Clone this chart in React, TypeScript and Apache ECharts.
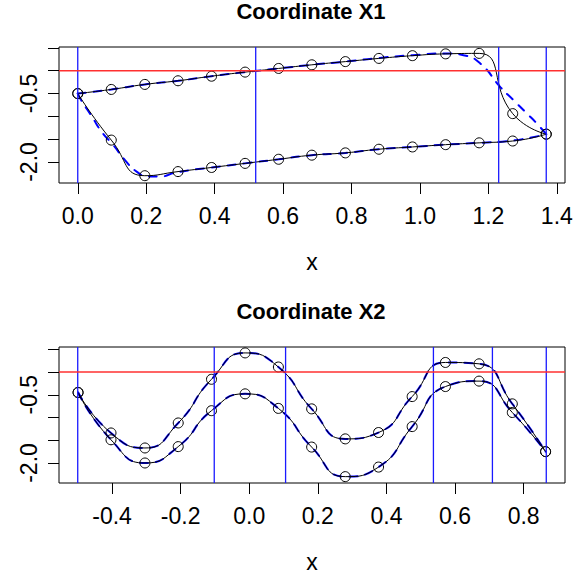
import React, { useEffect, useRef } from "react";
import * as echarts from "echarts";

// ---------- Panel 1: Coordinate X1 ----------
const x1X = [0, 0.098, 0.196, 0.293, 0.391, 0.489, 0.587, 0.684, 0.782, 0.88, 0.978, 1.075, 1.173, 1.271, 1.369];
const x1Upper = [-0.5, -0.41, -0.3, -0.22, -0.12, -0.03, 0.05, 0.13, 0.2, 0.27, 0.33, 0.37, 0.38, -0.94, -1.39];
const x1Lower = [-0.5, -1.52, -2.3, -2.21, -2.12, -2.03, -1.94, -1.85, -1.8, -1.72, -1.67, -1.62, -1.58, -1.54, -1.39];
const x1DashUpX = [0, 0.098, 0.196, 0.293, 0.391, 0.489, 0.587, 0.684, 0.782, 0.88, 0.978, 1.075, 1.127, 1.176, 1.235, 1.274, 1.313, 1.342, 1.369];
const x1DashUpY = [-0.5, -0.41, -0.3, -0.22, -0.12, -0.03, 0.05, 0.13, 0.2, 0.28, 0.34, 0.38, 0.34, 0.16, -0.36, -0.65, -0.94, -1.16, -1.39];
const x1DashLoX = [0, 0.007, 0.041, 0.07, 0.104, 0.138, 0.172, 0.206, 0.236, 0.293, 0.391, 0.489, 0.587, 0.684, 0.782, 0.88, 0.978, 1.075, 1.173, 1.271, 1.369];
const x1DashLoY = [-0.5, -0.61, -1.0, -1.34, -1.63, -1.96, -2.21, -2.32, -2.32, -2.22, -2.12, -2.03, -1.94, -1.85, -1.8, -1.72, -1.67, -1.62, -1.58, -1.53, -1.39];
const x1VLines = [0, 0.52, 1.23, 1.369];
const x1XTicks = [0, 0.2, 0.4, 0.6, 0.8, 1.0, 1.2, 1.4];
const x1XRange = [-0.0548, 1.4238];
const x1YRange = [-2.46, 0.52];

// ---------- Panel 2: Coordinate X2 ----------
const x2X = [-0.499, -0.403, -0.304, -0.207, -0.11, -0.012, 0.085, 0.182, 0.28, 0.377, 0.475, 0.572, 0.67, 0.767, 0.864];
const x2Upper = [-0.45, -1.34, -1.67, -1.12, -0.16, 0.42, 0.11, -0.81, -1.47, -1.33, -0.54, 0.21, 0.18, -0.7, -1.75];
const x2Lower = [-0.45, -1.49, -2.0, -1.64, -0.85, -0.48, -0.8, -1.65, -2.3, -2.09, -1.2, -0.32, -0.2, -0.89, -1.75];
const x2VLines = [-0.5, -0.102, 0.106, 0.537, 0.709, 0.866];
const x2XTicks = [-0.4, -0.2, 0, 0.2, 0.4, 0.6, 0.8];
const x2XRange = [-0.5546, 0.9206];
const x2YRange = [-2.44, 0.55];

const yTicks = [-2.0, -1.5, -1.0, -0.5, 0, 0.5];
const yLabels = [-2.0, -0.5];
const hLine = 0;

const FONT = "'Liberation Sans', Arial, Helvetica, sans-serif";
const LABEL_SIZE = 23;

const zip = (xs: number[], ys: number[]) => xs.map((x, i) => [x, ys[i]]);

function xAxisCfg(idx: number, range: number[], ticks: number[]) {
  return {
    type: "value",
    gridIndex: idx,
    min: range[0],
    max: range[1],
    position: "bottom",
    axisLine: { show: false, onZero: false },
    splitLine: { show: false },
    axisTick: { show: true, length: 11, lineStyle: { color: "#000", width: 1 }, customValues: ticks },
    axisLabel: {
      show: true,
      customValues: ticks,
      formatter: (v: number) => v.toFixed(1),
      fontSize: LABEL_SIZE,
      color: "#000",
      margin: 21,
      fontFamily: FONT,
    },
    name: "x",
    nameLocation: "middle",
    nameGap: 67,
    nameTextStyle: { fontSize: LABEL_SIZE, color: "#000", fontFamily: FONT },
  };
}

function yAxisCfg(idx: number, range: number[]) {
  return {
    type: "value",
    gridIndex: idx,
    min: range[0],
    max: range[1],
    position: "left",
    axisLine: { show: false, onZero: false },
    splitLine: { show: false },
    axisTick: { show: true, length: 11, lineStyle: { color: "#000", width: 1 }, customValues: yTicks },
    axisLabel: {
      show: true,
      customValues: yLabels,
      rotate: 90,
      formatter: (v: number) => v.toFixed(1),
      fontSize: LABEL_SIZE,
      color: "#000",
      margin: 19,
      fontFamily: FONT,
    },
  };
}

function blackSeries(idx: number, xs: number[], ys: number[]) {
  return {
    type: "line",
    xAxisIndex: idx,
    yAxisIndex: idx,
    data: zip(xs, ys),
    smooth: 0.55,
    symbol: "circle",
    symbolSize: 10,
    itemStyle: { color: "rgba(0,0,0,0)", borderColor: "#000", borderWidth: 1 },
    lineStyle: { color: "#000", width: 1 },
    z: 4,
    silent: true,
  };
}

function dashSeries(idx: number, xs: number[], ys: number[]) {
  return {
    type: "line",
    xAxisIndex: idx,
    yAxisIndex: idx,
    data: zip(xs, ys),
    smooth: 0.55,
    symbol: "none",
    color: "#0000ff",
    lineStyle: { color: "#0000ff", width: 2, type: [8, 8], cap: "round" },
    z: 3,
    silent: true,
  };
}

function vLineSeries(idx: number, v: number, yRange: number[]) {
  return {
    type: "line",
    xAxisIndex: idx,
    yAxisIndex: idx,
    data: [
      [v, yRange[0]],
      [v, yRange[1]],
    ],
    symbol: "none",
    color: "#1a1aff",
    lineStyle: { color: "#1a1aff", width: 1.3, type: "solid" },
    z: 5,
    silent: true,
  };
}

function hLineSeries(idx: number, y: number, xRange: number[]) {
  return {
    type: "line",
    xAxisIndex: idx,
    yAxisIndex: idx,
    data: [
      [xRange[0], y],
      [xRange[1], y],
    ],
    symbol: "none",
    color: "#ff3030",
    lineStyle: { color: "#ff3030", width: 1.3, type: "solid" },
    z: 5,
    silent: true,
  };
}

export default function App() {
  const ref = useRef<HTMLDivElement>(null);
  useEffect(() => {
    if (!ref.current) return;
    const chart = echarts.init(ref.current, null, { renderer: "svg" });
    chart.setOption({
      animation: false,
      backgroundColor: "#fff",
      textStyle: { fontFamily: FONT },
      grid: [
        { left: 59, top: 47, width: 506, height: 136, show: true, borderColor: "#000", borderWidth: 1, backgroundColor: "transparent" },
        { left: 59, top: 347, width: 506, height: 136, show: true, borderColor: "#000", borderWidth: 1, backgroundColor: "transparent" },
      ],
      xAxis: [xAxisCfg(0, x1XRange, x1XTicks), xAxisCfg(1, x2XRange, x2XTicks)],
      yAxis: [yAxisCfg(0, x1YRange), yAxisCfg(1, x2YRange)],
      graphic: [
        {
          type: "text",
          x: 311,
          y: 11,
          style: { text: "Coordinate X1", font: `bold 22px ${FONT}`, fill: "#000", textAlign: "center", textVerticalAlign: "middle" },
        },
        {
          type: "text",
          x: 311,
          y: 311,
          style: { text: "Coordinate X2", font: `bold 22px ${FONT}`, fill: "#000", textAlign: "center", textVerticalAlign: "middle" },
        },
      ],
      series: [
        dashSeries(0, x1DashUpX, x1DashUpY),
        dashSeries(0, x1DashLoX, x1DashLoY),
        blackSeries(0, x1X, x1Upper),
        blackSeries(0, x1X, x1Lower),
        ...x1VLines.map((v) => vLineSeries(0, v, x1YRange)),
        hLineSeries(0, hLine, x1XRange),
        dashSeries(1, x2X, x2Upper),
        dashSeries(1, x2X, x2Lower),
        blackSeries(1, x2X, x2Upper),
        blackSeries(1, x2X, x2Lower),
        ...x2VLines.map((v) => vLineSeries(1, v, x2YRange)),
        hLineSeries(1, hLine, x2XRange),
      ],
    });
    return () => chart.dispose();
  }, []);
  return <div ref={ref} style={{ position: "fixed", left: 0, top: 0, width: 581, height: 578, background: "#fff" }} />;
}
